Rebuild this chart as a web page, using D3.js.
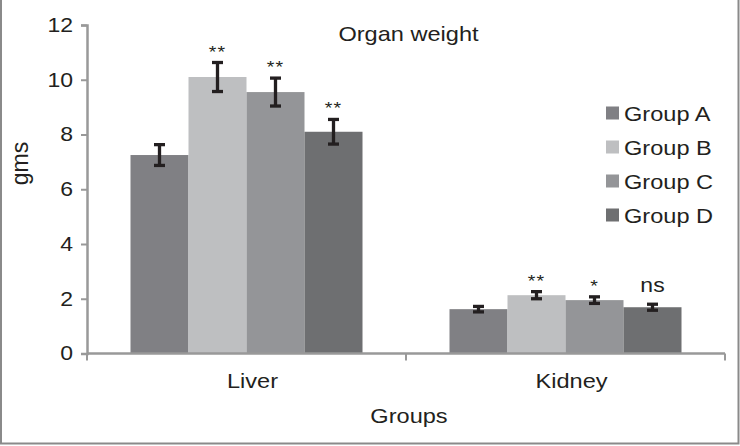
<!DOCTYPE html>
<html>
<head>
<meta charset="utf-8">
<script src="https://cdn.jsdelivr.net/npm/d3@7/dist/d3.min.js"></script>
<style>
  body { margin: 0; background: #fff; }
  svg { display: block; }
  text { font-family: "Liberation Sans", Arial, sans-serif; fill: #231f20; }
</style>
</head>
<body>
<svg id="chart" width="740" height="446"></svg>
<script>
const categories = ["Liver", "Kidney"];
const groups = ["Group A", "Group B", "Group C", "Group D"];
const liverMeans = [7.25, 10.1, 9.55, 8.1];
const liverErrs = [0.38, 0.53, 0.51, 0.45];
const kidneyMeans = [1.62, 2.13, 1.95, 1.69];
const kidneyErrs = [0.1, 0.13, 0.12, 0.11];
const liverSig = ["", "**", "**", "**"];
const kidneySig = ["", "**", "*", "ns"];
const yTicks = [0, 2, 4, 6, 8, 10, 12];
const colors = ["#808084", "#bebfc1", "#949598", "#6e6f71"];

const data = [
  { cat: "Liver", means: liverMeans, errs: liverErrs, sig: liverSig },
  { cat: "Kidney", means: kidneyMeans, errs: kidneyErrs, sig: kidneySig }
];

const SX = 1.15;
const svg = d3.select("#chart");

// frame
svg.append("path").attr("d", "M1,0V443.5H738.5V0")
  .attr("fill", "none").attr("stroke", "#8a8a8a").attr("stroke-width", 2);

const x0 = d3.scaleBand().domain(categories).range([87, 725]).paddingInner(0).paddingOuter(0);
const x1 = d3.scaleBand().domain(groups).range([0, x0.bandwidth()]).paddingInner(0).paddingOuter(0.75);
const y = d3.scaleLinear().domain([0, 12]).range([353.5, 25]);
const color = d3.scaleOrdinal().domain(groups).range(colors);

function stext(parent, x, yy, str, size, anchor, extra) {
  return parent.append("text")
    .attr("transform", `translate(${x},${yy}) scale(${SX},1)` + (extra || ""))
    .attr("text-anchor", anchor || "start")
    .attr("font-size", size)
    .text(str);
}

// bars
const gCat = svg.selectAll("g.cat").data(data).enter().append("g")
  .attr("class", "cat")
  .attr("transform", d => `translate(${x0(d.cat)},0)`);

gCat.selectAll("rect").data(d => groups.map((g, i) => ({ g, v: d.means[i] })))
  .enter().append("rect")
  .attr("x", d => x1(d.g))
  .attr("width", x1.bandwidth())
  .attr("y", d => y(d.v))
  .attr("height", d => y(0) - y(d.v))
  .attr("fill", d => color(d.g));

// error bars
gCat.each(function(d) {
  const g = d3.select(this);
  groups.forEach((grp, i) => {
    const cx = x1(grp) + x1.bandwidth() / 2;
    const top = y(d.means[i] + d.errs[i]);
    const bot = y(d.means[i] - d.errs[i]);
    const eb = g.append("g").attr("stroke", "#231f20").attr("stroke-width", 3.3);
    eb.append("line").attr("x1", cx).attr("x2", cx).attr("y1", top).attr("y2", bot);
    eb.append("line").attr("x1", cx - 5.5).attr("x2", cx + 5.5).attr("y1", top).attr("y2", top);
    eb.append("line").attr("x1", cx - 5.5).attr("x2", cx + 5.5).attr("y1", bot).attr("y2", bot);
    const s = d.sig[i];
    if (s) {
      if (s === "ns") {
        stext(g, cx, top - 12, s, 20, "middle").attr("fill", "#231f20");
      } else {
        stext(g, cx, top - 5, s, 17, "middle").attr("fill", "#555").attr("letter-spacing", 1);
      }
    }
  });
});

// y axis
const yAxis = svg.append("g").attr("transform", "translate(87,0)")
  .call(d3.axisLeft(y).tickValues(yTicks).tickSize(6).tickPadding(8).tickFormat(d3.format("d")));
yAxis.select(".domain").attr("stroke", "#999").attr("stroke-width", 2.5);
yAxis.selectAll(".tick line").attr("stroke", "#999").attr("stroke-width", 2);
yAxis.selectAll(".tick text")
  .attr("font-size", 20)
  .attr("font-family", "Liberation Sans, Arial, sans-serif")
  .attr("fill", "#231f20")
  .attr("x", null)
  .attr("transform", `translate(-14,0) scale(${SX},1)`);

// x axis
const xAxisG = svg.append("g");
xAxisG.append("line").attr("x1", 87).attr("x2", 725).attr("y1", y(0)).attr("y2", y(0))
  .attr("stroke", "#999").attr("stroke-width", 2.5);
const edges = [x0(categories[0])].concat(categories.map(c => x0(c) + x0.bandwidth()));
xAxisG.selectAll("line.edge").data(edges).enter().append("line")
  .attr("class", "edge")
  .attr("x1", d => d).attr("x2", d => d)
  .attr("y1", y(0)).attr("y2", y(0) + 7)
  .attr("stroke", "#999").attr("stroke-width", 2);
categories.forEach(c => {
  stext(svg, x0(c) + x0.bandwidth() / 2 + 6, 388, c, 20.5, "middle");
});

// titles
stext(svg, 408.5, 41, "Organ weight", 20.5, "middle");
stext(svg, 409, 422.5, "Groups", 20.5, "middle");
svg.append("text")
  .attr("transform", "translate(28,163.5) rotate(-90)")
  .attr("text-anchor", "middle")
  .attr("font-size", 23)
  .text("gms");

// legend
const legY = [113, 147, 181, 215];
groups.forEach((g, i) => {
  svg.append("rect").attr("x", 606).attr("y", legY[i] - 6.5).attr("width", 13).attr("height", 13)
    .attr("fill", color(g));
  stext(svg, 624, legY[i] + 7.5, g, 20.5, "start");
});
</script>
</body>
</html>
